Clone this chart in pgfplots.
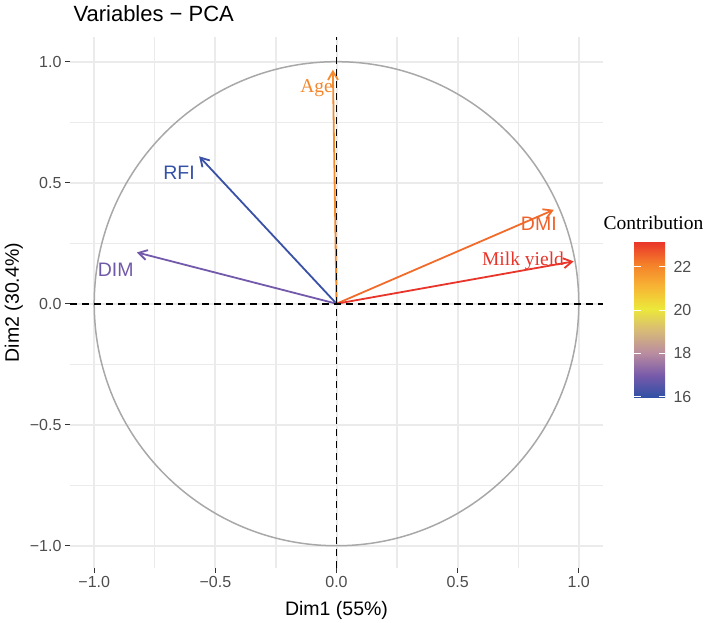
\documentclass[border=0pt]{standalone}
\usepackage{fontspec}
\setmainfont{Liberation Sans}
\newfontfamily\seriffont{Liberation Serif}
\usepackage{pgfplots}
\usepackage{pgfplotstable}
\pgfplotsset{compat=1.18}
\usetikzlibrary{arrows.meta}

\definecolor{gridgray}{RGB}{235,235,235}
\definecolor{circgray}{RGB}{168,168,168}
\definecolor{ticktext}{RGB}{77,77,77}
\definecolor{cAge}{RGB}{244,133,43}
\definecolor{cRFI}{RGB}{53,81,166}
\definecolor{cDIM}{RGB}{113,89,169}
\definecolor{cDMI}{RGB}{240,98,42}
\definecolor{cMilk}{RGB}{233,52,42}

\pgfplotsset{colormap={contrib}{
  rgb255=(46,80,165) rgb255=(120,90,170) rgb255=(185,140,160)
  rgb255=(215,185,120) rgb255=(236,232,58) rgb255=(247,180,52)
  rgb255=(244,128,42) rgb255=(233,52,42)}}

% variable loadings on Dim1 / Dim2 and their contribution (%)
\pgfplotstableread{
name  x0 y0 u      v     c
Age   0  0  -0.015 0.967 21.9
RFI   0  0  -0.567 0.609 16.1
DIM   0  0  -0.824 0.212 16.9
DMI   0  0  0.897  0.388 22.4
Milk  0  0  0.979  0.175 23.15
}\loadings

\newcommand{\ticksize}{\fontsize{16}{19}\selectfont}
\newcommand{\labsize}{\fontsize{19.5}{23}\selectfont}

\begin{document}
\begin{tikzpicture}
\begin{axis}[
  width=533pt, height=531pt, scale only axis,
  xmin=-1.1, xmax=1.1, ymin=-1.092, ymax=1.102,
  axis line style={draw=none},
  xtick={-1,-0.5,0,0.5,1},
  xticklabels={−1.0,−0.5,0.0,0.5,1.0},
  ytick={-1,-0.5,0,0.5,1},
  yticklabels={−1.0,−0.5,0.0,0.5,1.0},
  minor xtick={-0.75,-0.25,0.25,0.75},
  minor ytick={-0.75,-0.25,0.25,0.75},
  grid=both,
  major grid style={gridgray, line width=2pt},
  minor grid style={gridgray, line width=1.2pt},
  tick pos=left,
  tick align=outside,
  major tick length=5pt,
  minor tick length=0pt,
  major tick style={black!80, line width=1.1pt},
  ticklabel style={font=\ticksize, color=ticktext},
  xlabel={Dim1 (55\%)},
  ylabel={Dim2 (30.4\%)},
  xlabel style={font=\labsize, at={(axis description cs:0.5,-0.0898)}, anchor=base},
  ylabel style={font=\labsize, at={(axis description cs:-0.0957,0.5)}, anchor=base, rotate=0},
  every axis title shift=0pt,
  title={Variables − PCA},
  title style={font=\fontsize{22}{26}\selectfont, at={(axis description cs:0,1.0301)}, anchor=base west},
  colormap name=contrib,
  point meta min=15.95, point meta max=23.15,
  colorbar,
  colorbar/width=31pt,
  colorbar shift/.style={xshift=30pt, yshift=-204.7pt},
  colorbar style={
    height=156pt,
    axis line style={draw=none},
    ytick={16,18,20,22},
    yticklabels={16,18,20,22},
    ytick pos=both, yticklabel pos=right,
    tick align=inside,
    major tick length=6.5pt,
    major tick style={white, line width=0.9pt},
    yticklabel style={font=\ticksize, color=ticktext, xshift=5pt},
    every axis title shift=0pt,
    title={\seriffont Contribution},
    title style={font=\fontsize{19.5}{23}\selectfont, at={(0.5,1)}, anchor=base, yshift=12pt, xshift=4pt},
  },
  clip=false,
]
% loading arrows, coloured by contribution
\addplot[
  quiver={u=\thisrow{u}, v=\thisrow{v}, colored=mapped color,
          every arrow/.append style={line width=1.8pt}},
  -{Straight Barb[length=8.5pt,width=10pt]},
  line width=1.8pt,
  point meta=\thisrow{c},
] table[x=x0, y=y0] {\loadings};

% variable names
\node[font=\seriffont\labsize, text=cAge, anchor=base] at (axis cs:-0.082,0.871) {Age};
\node[font=\labsize, text=cRFI, anchor=base] at (axis cs:-0.650,0.512) {RFI};
\node[font=\labsize, text=cDIM, anchor=base] at (axis cs:-0.911,0.113) {DIM};
\node[font=\labsize, text=cDMI, anchor=base] at (axis cs:0.835,0.302) {DMI};
\node[font=\seriffont\labsize, text=cMilk, anchor=base] at (axis cs:0.770,0.157) {Milk yield};

% correlation circle
\draw[circgray, line width=1.5pt] (axis cs:0,0) circle [radius=1];

% reference axes through the origin
\addplot[black, line width=1.8pt, dash pattern=on 7pt off 5pt] coordinates {(-1.1,0) (1.1,0)};
\addplot[black, line width=1.8pt, dash pattern=on 7pt off 5pt] coordinates {(0,-1.092) (0,1.102)};
\end{axis}
\pgfresetboundingbox
\path ([shift={(-70pt,-54pt)}]current axis.south west) rectangle ([shift={(639pt,568pt)}]current axis.south west);
\end{tikzpicture}
\end{document}
